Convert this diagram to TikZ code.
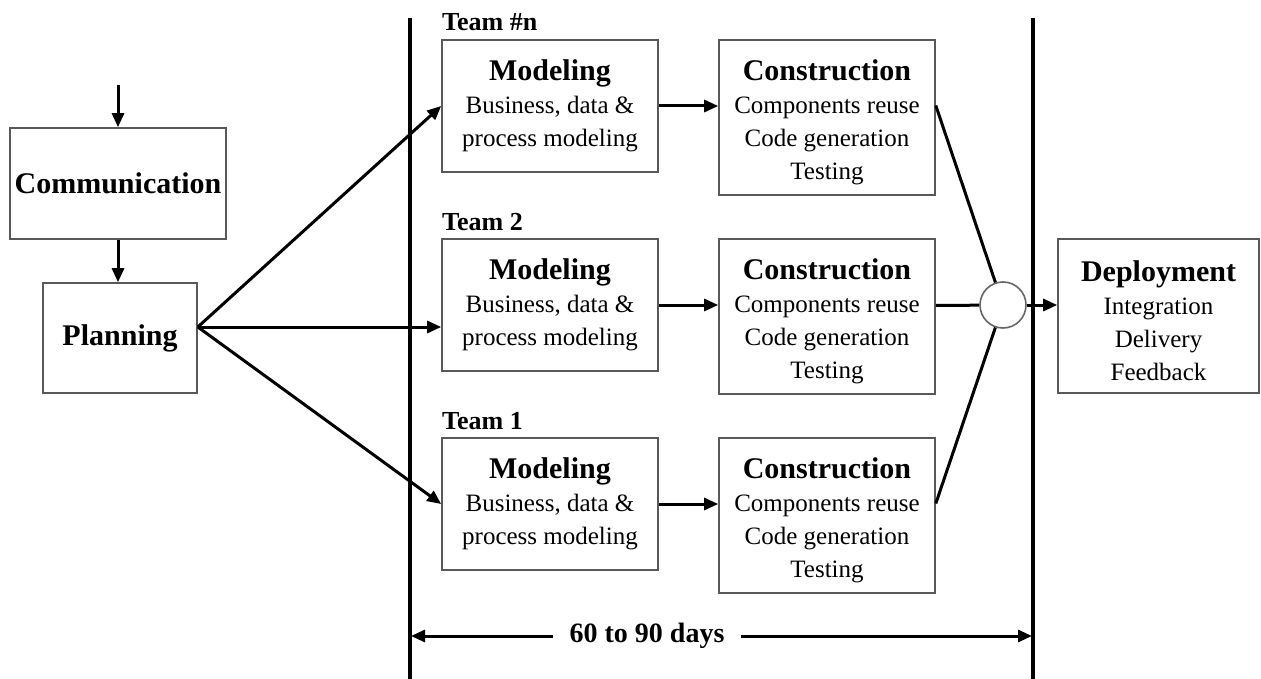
\documentclass[tikz,border=0pt]{standalone}
\usepackage{fontspec}
\setmainfont{Liberation Serif}
\usetikzlibrary{arrows.meta}
\newcommand{\ttl}{\fontsize{30}{34}\selectfont\bfseries}
\newcommand{\ttlup}{\rule{0pt}{30pt}}
\newcommand{\txt}{\fontsize{25}{33}\selectfont}

\begin{document}
\begin{tikzpicture}[x=1pt,y=-1pt,
  box/.style={draw=black!65,line width=1.6pt,inner sep=0pt,align=center,font=\txt},
  team/.style={inner sep=0pt,anchor=base west,font=\fontsize{26}{28}\selectfont\bfseries},
  arr/.style={line width=3pt,-{Triangle[length=14pt,width=12pt]}},
  link/.style={line width=3pt},
  bar/.style={line width=4.5pt}]

\useasboundingbox (0,0) rectangle (1261,679);

\draw[bar] (410,18) -- (410,679);
\draw[bar] (1033,18) -- (1033,679);

\node[box,minimum width=216,minimum height=111] (comm) at (118,183.5) {{\ttl Communication}};
\node[box,minimum width=154,minimum height=110] (plan) at (120,338) {{\ttl Planning}};

\node[team] (tn) at (442,31) {Team \#n};
\node[team] (t2) at (442,230) {Team 2};
\node[team] (t1) at (442,429) {Team 1};

\node[box,minimum width=216,minimum height=132] (modn) at (550,106) {{\ttl Modeling}\\Business, data \&\\process modeling};
\node[box,minimum width=216,minimum height=132] (mod2) at (550,305) {{\ttl Modeling}\\Business, data \&\\process modeling};
\node[box,minimum width=216,minimum height=132] (mod1) at (550,504) {{\ttl Modeling}\\Business, data \&\\process modeling};

\node[box,minimum width=216,minimum height=155] (consn) at (827,117.5) {{\ttlup\ttl Construction}\\Components reuse\\Code generation\\Testing};
\node[box,minimum width=216,minimum height=155] (cons2) at (827,316.5) {{\ttlup\ttl Construction}\\Components reuse\\Code generation\\Testing};
\node[box,minimum width=216,minimum height=155] (cons1) at (827,515.5) {{\ttlup\ttl Construction}\\Components reuse\\Code generation\\Testing};

\node[circle,draw=black!60,line width=1.6pt,fill=white,minimum size=46,inner sep=0pt] (join) at (1003,305) {};

\node[box,minimum width=201,minimum height=154] (dep) at (1158.5,316) {{\ttlup\ttl Deployment}\\Integration\\Delivery\\Feedback};

\node[inner sep=16pt,font=\fontsize{28}{30}\selectfont\bfseries] (days) at (647,636) {60 to 90 days};

\coordinate (top) at (118,85);
\coordinate (po) at ([yshift=11pt]plan.east);
\coordinate (dl) at (411,636);
\coordinate (dr) at (1032,636);

\draw[arr] (top) -- (comm);
\draw[arr] (comm.south) -- (comm.south |- plan.north);

\draw[arr] (po) -- (modn.west);
\draw[arr] (po) -- ([yshift=-22pt]mod2.west);
\draw[arr] (po) -- (mod1.west);

\draw[arr] (modn.east) -- (modn.east -| consn.west);
\draw[arr] (mod2.east) -- (mod2.east -| cons2.west);
\draw[arr] (mod1.east) -- (mod1.east -| cons1.west);

\draw[link] ([yshift=12pt]consn.east) -- (join);
\draw[link] ([yshift=11pt]cons2.east) -- (join);
\draw[link] ([yshift=12pt]cons1.east) -- (join);

\draw[arr] (join.east) -- (join.east -| dep.west);

\draw[arr] (days) -- (dl);
\draw[arr] (days) -- (dr);

\end{tikzpicture}
\end{document}
